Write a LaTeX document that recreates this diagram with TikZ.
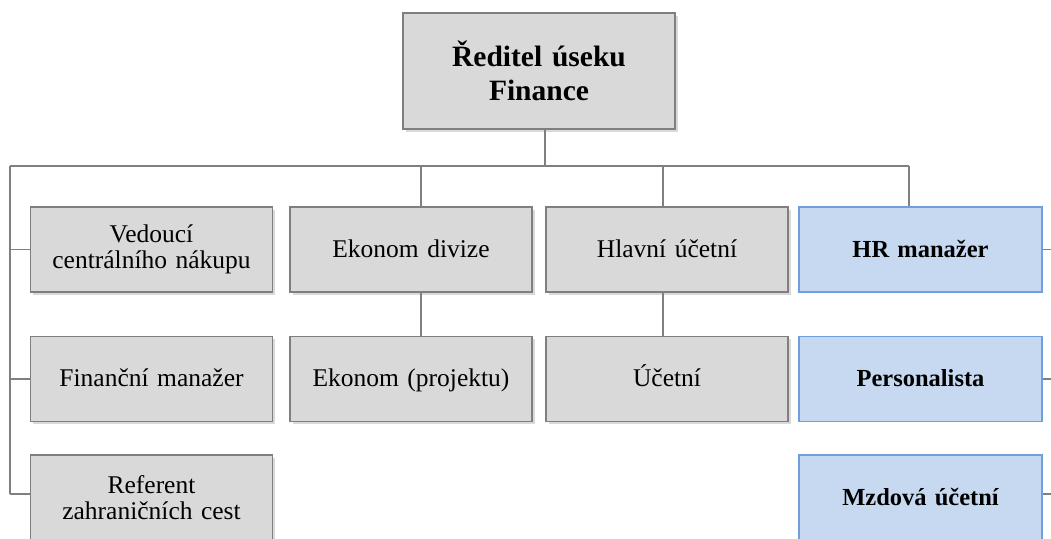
\documentclass[tikz,border=0pt]{standalone}
\usepackage{fontspec}
\setmainfont{Liberation Serif}
\usetikzlibrary{shadows}
\definecolor{boxgray}{HTML}{D9D9D9}
\definecolor{edgegray}{HTML}{7F7F7F}
\definecolor{boxblue}{HTML}{C6D9F1}
\definecolor{edgeblue}{HTML}{6FA0DC}
\definecolor{linegray}{HTML}{808080}
\tikzset{
  unit/.style={draw=edgegray, fill=boxgray, line width=1.3pt, minimum width=242pt,
    minimum height=85pt, inner sep=0pt, align=center, text width=236pt,
    font=\fontsize{25.5}{26}\selectfont,
    drop shadow={shadow xshift=2.5pt, shadow yshift=-2.5pt, fill=black!25, opacity=0.6}},
  hrunit/.style={draw=edgeblue, fill=boxblue, line width=1.2pt, minimum width=243pt,
    minimum height=85pt, inner sep=0pt, align=center, text width=236pt,
    font=\fontsize{24.5}{26}\selectfont\bfseries},
  oneline/.style={text height=18.5pt, text depth=3.5pt},
  headunit/.style={unit, minimum width=272pt, minimum height=116pt, text width=266pt,
    font=\fontsize{29.5}{34}\selectfont\bfseries},
  link/.style={draw=linegray, line width=1.4pt}
}
\begin{document}
\begin{tikzpicture}[x=1pt, y=-1pt]
\useasboundingbox (0,0) rectangle (1051,538);
\clip (0,0) rectangle (1051,538);

% head of the section
\node[headunit] (head) at (539,71) {Ředitel úseku\\Finance};

% left column
\node[unit] (nakup) at (151.5,249.5) {Vedoucí\\centrálního nákupu};
\node[unit, oneline] (finman) at (151.5,379) {Finanční manažer};
\node[unit] (cesty) at (151.5,497.5) {Referent\\zahraničních cest};

% economy column
\node[unit, oneline] (ekdiv) at (411,249.5) {Ekonom divize};
\node[unit, oneline] (ekproj) at (411,379) {Ekonom (projektu)};

% accounting column
\node[unit, oneline] (hlucet) at (667,249.5) {Hlavní účetní};
\node[unit, oneline] (ucet) at (667,379) {Účetní};

% HR column
\node[hrunit, oneline] (hrman) at (920.5,249.5) {HR manažer};
\node[hrunit, oneline] (perso) at (920.5,379) {Personalista};
\node[hrunit, oneline] (mzdy) at (920.5,497.5) {Mzdová účetní};

% bus coordinates
\coordinate (busmid) at (545,166);
\coordinate (busleft) at (10,166);
\coordinate (busright) at (909,166);
\coordinate (busek) at (421,166);
\coordinate (busuc) at (663,166);
\coordinate (railend) at (10,494);
\coordinate (hrout1) at (1051,249.5);
\coordinate (hrout2) at (1051,379);
\coordinate (hrout3) at (1051,494);

% connectors
\draw[link] (head.south -| busmid) -- (busmid);
\draw[link] (busleft) -- (busright);
\draw[link] (busleft) -- (railend);
\draw[link] (busleft |- nakup.west) -- (nakup.west);
\draw[link] (busleft |- finman.west) -- (finman.west);
\draw[link] (railend) -- (railend -| cesty.west);
\draw[link] (busek) -- (busek |- ekdiv.north);
\draw[link] (busuc) -- (busuc |- hlucet.north);
\draw[link] (busright) -- (busright |- hrman.north);
\draw[link] (busek |- ekdiv.south) -- (busek |- ekproj.north);
\draw[link] (busuc |- hlucet.south) -- (busuc |- ucet.north);
\draw[link] (hrman.east) -- (hrout1);
\draw[link] (perso.east) -- (hrout2);
\draw[link] (hrout3 -| mzdy.east) -- (hrout3);
\end{tikzpicture}
\end{document}
